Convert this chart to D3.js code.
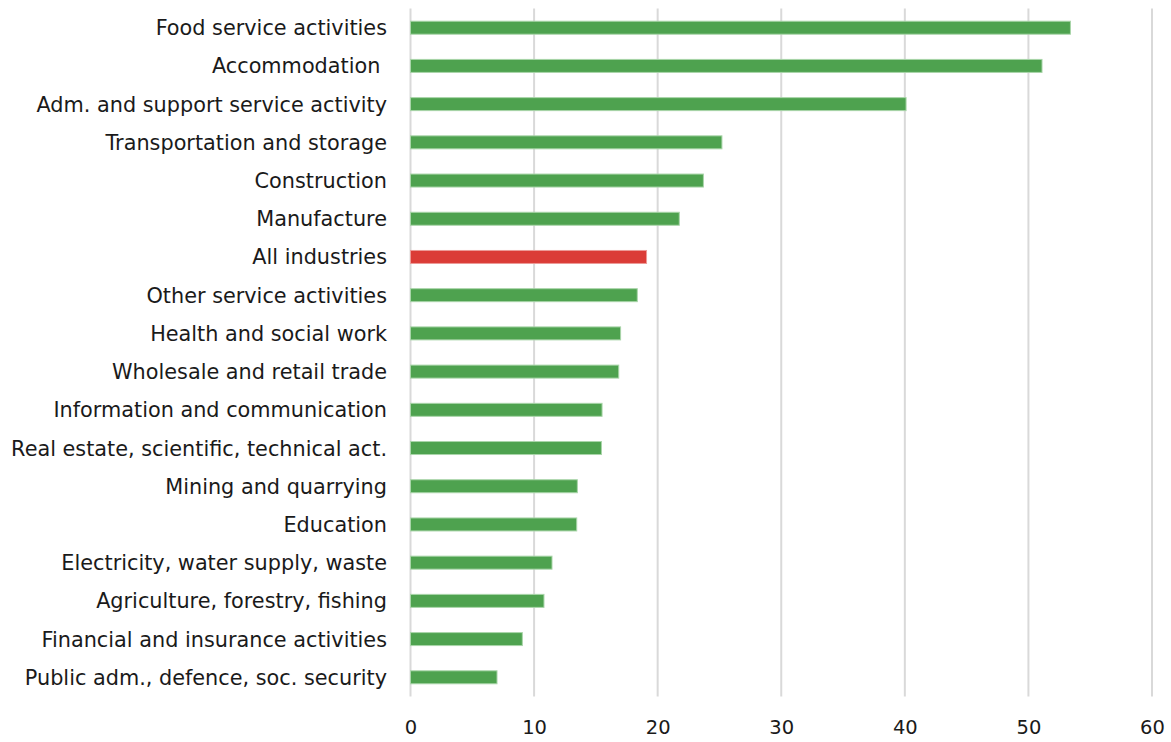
<!DOCTYPE html>
<html>
<head>
<meta charset="utf-8">
<script src="https://cdn.jsdelivr.net/npm/d3@7"></script>
<style>
  html, body { margin: 0; padding: 0; background: #fff; }
  svg { display: block; }
  .lbl { font-family: "DejaVu Sans", Verdana, sans-serif; font-size: 20.8px; fill: #1a1a1a; }
  .tick-lbl { font-family: "DejaVu Sans", Verdana, sans-serif; font-size: 19.5px; fill: #1a1a1a; }
</style>
</head>
<body>
<svg id="chart" width="1171" height="742"></svg>
<script>
// Industry categories, top to bottom
const categories = [
  "Food service activities",
  "Accommodation ",
  "Adm. and support service activity",
  "Transportation and storage",
  "Construction",
  "Manufacture",
  "All industries",
  "Other service activities",
  "Health and social work",
  "Wholesale and retail trade",
  "Information and communication",
  "Real estate, scientific, technical act.",
  "Mining and quarrying",
  "Education",
  "Electricity, water supply, waste",
  "Agriculture, forestry, fishing",
  "Financial and insurance activities",
  "Public adm., defence, soc. security"
];

// Value per industry
const values = [53.4, 51.1, 40.1, 25.2, 23.7, 21.75, 19.1, 18.35, 17.0, 16.85, 15.5, 15.45, 13.5, 13.45, 11.45, 10.8, 9.05, 7.0];

// Category shown as the overall total
const highlight = "All industries";

// Axis tick values
const xTicks = [0, 10, 20, 30, 40, 50, 60];

const svg = d3.select("#chart");

const x = d3.scaleLinear().domain([0, 60]).range([410.5, 1152]);
const y = d3.scaleBand()
  .domain(categories)
  .range([8.6, 696.4])
  .paddingInner(0.66)
  .paddingOuter(0.33);

// Vertical gridlines
svg.append("g")
  .selectAll("line")
  .data(xTicks)
  .join("line")
  .attr("x1", d => x(d)).attr("x2", d => x(d))
  .attr("y1", 8.6).attr("y2", 696.4)
  .attr("stroke", "#d9d9d9")
  .attr("stroke-width", 2);

// Bars
svg.append("g")
  .selectAll("rect")
  .data(categories.map((c, i) => ({ c, v: values[i] })))
  .join("rect")
  .attr("x", x(0))
  .attr("y", d => y(d.c))
  .attr("width", d => x(d.v) - x(0))
  .attr("height", y.bandwidth())
  .attr("fill", d => d.c === highlight ? "#db3c37" : "#4ea24f")
  .attr("stroke", d => d.c === highlight ? "#ec9a97" : "#a9d5a9")
  .attr("stroke-width", 1);

// Category labels
svg.append("g")
  .selectAll("text")
  .data(categories)
  .join("text")
  .attr("class", "lbl")
  .attr("x", 387)
  .attr("y", d => y(d) + y.bandwidth() / 2)
  .attr("dy", "0.36em")
  .attr("text-anchor", "end")
  .attr("xml:space", "preserve")
  .text(d => d);

// X axis tick labels
const xAxis = d3.axisBottom(x).tickValues(xTicks).tickSize(0).tickPadding(0);
const gx = svg.append("g").attr("transform", "translate(0,727)").call(xAxis);
gx.select(".domain").remove();
gx.attr("font-family", null).attr("font-size", null);
gx.selectAll("text")
  .attr("class", "tick-lbl")
  .attr("dy", "0.36em")
  .attr("y", 0);
</script>
</body>
</html>
